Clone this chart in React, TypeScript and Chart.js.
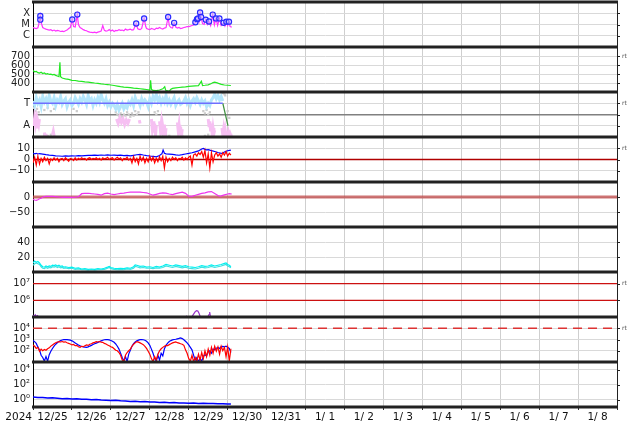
import { useEffect, useRef } from 'react';
import { Chart, registerables } from 'chart.js';
Chart.register(...registerables);

// ---------- axis labels ----------
const dayLabels = ['12/25', '12/26', '12/27', '12/28', '12/29', '12/30', '12/31', '1/ 1', '1/ 2', '1/ 3', '1/ 4', '1/ 5', '1/ 6', '1/ 7', '1/ 8'];
const yearLabel = '2024';
const totalHours = 360;

// ---------- panel 1: X-ray flux (hour, W/m2) ----------
const xraySeries: [number, number][] = [[0,5.4e-6],[1,4.8e-6],[2,4.4e-6],[3,5.0e-6],[4,2.0e-5],[4.5,5.7e-5],[5,1.5e-5],[6,5.4e-6],[7,4.4e-6],[8,3.9e-6],[9,3.5e-6],[10,3.2e-6],[11,3.5e-6],[12,2.8e-6],[13,3.2e-6],[14,2.6e-6],[15,3.0e-6],[16,2.8e-6],[17,2.4e-6],[18,2.6e-6],[19,2.3e-6],[20,2.8e-6],[21,3.2e-6],[22,4.4e-6],[23,5.4e-6],[24.2,2.85e-5],[25,6.6e-6],[26,5.9e-6],[27.3,7.6e-5],[28,1.0e-5],[29,5.4e-6],[30,4.4e-6],[31,3.5e-6],[32,3.0e-6],[33,2.8e-6],[34,2.3e-6],[35,2.1e-6],[36,2.0e-6],[37,1.9e-6],[38,2.1e-6],[39,1.8e-6],[40,2.1e-6],[41,2.3e-6],[42,2.6e-6],[43,8.1e-6],[44,3.0e-6],[45,2.6e-6],[46,2.8e-6],[47,3.5e-6],[48,2.6e-6],[49,3.2e-6],[50,2.4e-6],[51,3.0e-6],[52,2.8e-6],[53,3.5e-6],[54,3.0e-6],[55,3.2e-6],[56,2.8e-6],[57,3.9e-6],[58,3.2e-6],[59,3.5e-6],[60,3.9e-6],[61,3.2e-6],[62,3.5e-6],[63.6,1.23e-5],[64.5,4.4e-6],[65,3.9e-6],[66,3.5e-6],[67,4.4e-6],[68.5,3.5e-5],[69.5,6.6e-6],[70,4.4e-6],[71,3.9e-6],[72,3.5e-6],[73,4.4e-6],[74,4.0e-6],[75,3.5e-6],[76,4.8e-6],[77,4.4e-6],[78,5.4e-6],[79,4.4e-6],[80,3.9e-6],[81,4.8e-6],[82,5.4e-6],[83.3,4.6e-5],[84,8.1e-6],[85,5.4e-6],[86,4.8e-6],[87,1.4e-5],[88,5.9e-6],[89,4.8e-6],[90,5.4e-6],[91,4.4e-6],[92,4.8e-6],[93,5.4e-6],[94,5.9e-6],[95,6.6e-6],[96,6.6e-6],[97,7.2e-6],[98,8.1e-6],[99,9.0e-6],[100.1,1.6e-5],[101.1,3.0e-5],[101.7,3.5e-5],[102.3,1.8e-5],[103,1.15e-4],[103.6,4.6e-5],[104.5,1.2e-5],[105.5,1.0e-5],[106.5,2.7e-5],[107.5,1.0e-5],[108.5,1.85e-5],[109.5,8.1e-6],[110.8,7.6e-5],[111.8,9.0e-6],[112.8,3.5e-5],[113.8,8.1e-6],[114.9,3.5e-5],[116,8.1e-6],[117.5,1.4e-5],[118.3,7.2e-6],[119.2,1.8e-5],[120,8.1e-6],[120.8,1.8e-5],[121.5,6.6e-6],[122.5,5.9e-6]];
const flareEvents: [number, number][] = [[4.5,5.7e-5],[4.5,2.7e-5],[24.2,2.85e-5],[27.3,7.6e-5],[63.6,1.23e-5],[68.5,3.5e-5],[83.3,4.6e-5],[87,1.4e-5],[100.1,1.6e-5],[101.1,3.0e-5],[101.7,3.5e-5],[103,1.15e-4],[103.6,4.6e-5],[106.5,2.7e-5],[108.5,1.85e-5],[110.8,7.6e-5],[112.8,3.5e-5],[114.9,3.5e-5],[117.5,1.4e-5],[119.2,1.8e-5],[120.8,1.8e-5]];
const xrayTicks = [1e-6, 1e-5, 1e-4];
const xrayTickLabels = ['C', 'M', 'X'];

// ---------- panel 2: solar wind speed (hour, km/s) ----------
const windSeries: [number, number][] = [[0,540],[1,525],[2,530],[3,515],[4,510],[5,520],[6,505],[7,512],[8,500],[9,505],[10,495],[11,498],[12,490],[13,495],[14,485],[15,478],[16,470],[16.6,630],[17,470],[18,455],[19,450],[20,445],[22,440],[24,430],[26,428],[28,420],[30,418],[32,412],[34,410],[36,405],[38,400],[40,396],[42,390],[44,386],[46,383],[48,378],[50,372],[52,366],[54,360],[56,355],[58,352],[60,348],[62,343],[64,340],[66,336],[68,332],[70,328],[72,322],[72.5,430],[73,330],[74,318],[76,316],[78,322],[80,335],[81.2,358],[81.8,320],[83,312],[84,310],[85,330],[86,340],[88,345],[90,350],[92,355],[94,358],[96,362],[98,365],[100,368],[102,370],[103.8,420],[104.5,372],[106,375],[108,380],[110,395],[111,405],[112,410],[113,405],[114,398],[116,385],[118,378],[120,375],[122,372]];
const windTicks = [400, 500, 600, 700];

// ---------- panel 3: sector polarity (T = 1, A = -1) ----------
const sectorTowardLine: [number, number][] = [[0, 1], [117, 1]];
const sectorSwitchLine: [number, number][] = [[117, 1], [120.2, -1]];
const sectorToward = [1.2,0.8,1.5,1.0,1.3,0.7,1.6,1.1,1.4,0.9, 1.7,1.2,1.0,1.5,0.8,1.3,1.1,1.6,0.9,1.2, 1.4,0.7,1.1,1.3,0.8,1.0,1.5,1.2,0.9,1.4, 1.1,1.6,1.3,0.9,1.7,1.2,1.4,0.8,1.3,1.0, 1.5,1.1,1.8,1.3,1.0,1.4,0.8,1.1,0.7,1.0, 0.8,0.5,0.9,0.4,0.7,1.0,0.5,0.8,0.6,1.1, 0.9,1.3,0.8,1.5,1.1,1.2,0.8,1.4,1.0,1.3, 1.1,0.7,1.4,1.0,1.6,1.3,1.8,1.2,1.5,1.0, 1.4,1.1,1.7,1.0,1.3,0.9,1.2,1.5,0.8,1.1, 1.3,0.9,1.0,1.2,1.5,1.0,1.3,0.8,1.2,1.4, 1.1,1.5,1.2,0.9,1.3,1.0,1.2,0.7,1.0,0.8, 1.3,1.5,1.8,1.4,1.7,1.3,1.6,1.2];
const sectorAway: [number, number | null][] = [[0,-0.4],[0.5,-1.0],[1,-0.3],[1.5,-0.9],[2,-0.5],[2.5,-1.1],[3,-0.6],[3.5,-0.9],[4,-0.4],[5,null],[7,-1.6],[7.5,-1.9],[8,-1.7],[9,null],[12,-1.8],[12.5,-1.5],[13,-1.9],[14,null],[51.5,-0.4],[52.5,-0.8],[53.5,-0.3],[54.5,-0.7],[55.5,-0.4],[56.5,-0.9],[57.5,-0.5],[58.5,-0.8],[59.5,-0.4],[60,null],[65.5,-0.5],[66,-0.8],[67,null],[73,-0.4],[73.5,-1.2],[74,-0.6],[74.5,-1.6],[75,-0.8],[75.5,-1.9],[76,-1.0],[77,null],[78,-0.6],[78.5,-1.3],[79,-0.8],[79.5,-1.8],[80,-1.1],[80.5,-1.6],[81,-0.9],[81.5,-1.9],[82,-1.2],[83,null],[89,-0.7],[89.5,-1.4],[90,-0.9],[90.5,-1.8],[91,-1.1],[91.5,-1.9],[92,-1.3],[93,null],[108,-0.4],[108.5,-1.0],[109,-0.6],[109.5,-1.5],[110,-0.8],[110.5,-1.9],[111,-1.2],[111.5,-1.7],[112,-1.4],[113,null],[116.5,-1.2],[117,-1.8],[117.5,-1.3],[118,-1.9],[118.5,-1.4],[119,-1.9],[119.5,-1.5],[120,-1.95],[120.5,-1.6],[121,-1.9],[121.5,-1.7],[122,-1.9],[122.5,-1.8]];
const sectorUndetermined: [number, number][] = [[0.5,0.6],[1.5,0.3],[2.5,0.5],[3.5,0.2],[5,0.7],[7,0.4],[9,0.6],[11,0.3],[13,0.5],[2,1.9],[4,1.95],[6,1.9],[7,-1.8],[9,-1.9],[11,-1.8],[13,-1.9],[25,0.5],[27,0.3],[51,0.2],[52,0.0],[53,-0.1],[54,0.1],[55,-0.2],[56,0.0],[57,-0.1],[58,0.2],[59,0.0],[60,-0.2],[61,0.1],[62,-0.1],[63,0.3],[64,0.0],[65,0.2],[75,0.2],[76,0.0],[77,0.3],[80,-1.9],[82,-1.8],[84,-1.9],[91,-1.8],[92,-1.9],[105,0.3],[106,0.1],[107,0.4],[108,0.0],[109,0.2],[106,-1.9],[108,-1.8],[113,1.5],[117,1.9],[118,1.8],[118.5,1.7],[120,0.3],[121,-0.3]];
const sectorTicks = [-1, 0, 1];
const sectorTickLabels = ['A', '', 'T'];

// ---------- panel 4: IMF Bt (hour, nT) and Bz (hourly, nT) ----------
const btSeries: [number, number][] = [[0,5.6],[1,5.1],[2,5.5],[3,4.9],[4,5.3],[6,4.8],[8,4.3],[10,3.9],[12,3.6],[14,3.3],[16,3.1],[18,2.9],[20,3.2],[22,3.0],[24,3.3],[26,3.1],[28,3.4],[30,3.2],[32,3.5],[34,3.7],[36,3.6],[38,3.9],[40,3.7],[42,4.0],[44,3.8],[46,4.1],[48,3.8],[50,3.9],[52,3.6],[54,3.8],[56,3.4],[58,3.6],[60,3.2],[62,3.7],[64,4.2],[66,4.6],[68,4.0],[70,3.5],[72,3.1],[74,2.8],[76,2.4],[78,3.5],[79.5,5.2],[80.2,8.4],[81,5.5],[82,5.0],[84,4.8],[86,4.5],[88,4.1],[90,3.8],[92,4.3],[94,4.9],[96,5.4],[98,6.0],[100,6.8],[102,7.6],[103,8.5],[104,9.3],[105,9.8],[106,9.0],[107,8.6],[108,8.8],[109,8.3],[110,7.9],[112,7.1],[114,6.2],[116,5.5],[117,5.8],[118,6.6],[119,7.3],[120,7.8],[121,8.1],[122,8.4]];
const bzHourly = [-3,2,-5,3,-4,1,-2,2,-1,1, -4,0.5,-1,1.5,-0.5,1,-2,0.5,1,-1, 1.5,0,-1.5,1,0.5,-1,1.5,-0.5,1,0, 1.5,0.5,1,-0.5,1,1.5,0,1,0.5,1.5, 0,1,-0.5,1.5,0.5,1,2,0,1,1.5, -0.5,1,2,0.5,1.5,-1,1,0.5,2,-0.5, 1,-3,2.5,-2,1,-4,3,-1,2,-3, 1,-2,3,-1,2,-3,1,-2,2.5,-1, 3,-7.5,2,-2,1,-1,2,0,1.5,-1, 1,0.5,2,-0.5,1.5,0,2,3,-5,4, 5,3,6,4.5,7,2,8,-3,5,-7.5, 6,-2,4,6,3,5,2,6,4,7, 3,5.5,4];
const bTicks = [-10, 0, 10];
const bTickLabels = ['\u221210', '0', '10'];
const bzZeroLevel = 0;

// ---------- panel 5: Dst (hour, nT) ----------
const dstSeries: [number, number][] = [[0,-8],[1,-10],[2,-11],[3,-9],[4,-6],[5,-4],[6,-1],[7,1],[8,2],[10,2.5],[12,2],[14,1],[16,0],[18,-1],[20,-0.5],[22,-1.5],[24,-1],[26,-0.5],[27,0],[28,1],[29,6],[30,11],[32,12],[34,12.5],[36,11],[38,10],[40,9],[42,6],[44,11],[46,13],[48,10],[50,8],[52,10],[54,12],[56,13],[58,15],[60,16],[62,16.5],[64,16],[66,16],[68,15],[70,14],[72,10],[74,6],[76,9],[78,12],[80,14],[82,13],[84,10],[86,8],[88,11],[90,14],[92,16],[94,12],[96,3],[98,2],[100,6],[102,9],[104,12],[106,14],[108,17],[110,18],[112,12],[114,5],[115,3],[116,4],[118,7],[120,10],[121,11],[122.5,10]];
const dstTicks = [-50, 0];
const dstTickLabels = ['\u221250', '0'];
const dstZeroLevel = 0;

// ---------- panel 6: density (hour) ----------
const densityA: [number, number][] = [[0,12],[1,14.5],[2,13],[3,14],[4,12],[5,9],[6,7],[7,6.5],[8,8],[9,7],[10,8],[11,7.5],[12,9],[13,8.5],[14,9.5],[15,8],[16,9],[17,7.5],[18,8],[19,6.5],[20,7],[22,6],[24,6.5],[26,5],[28,5.5],[30,4],[32,4.5],[34,3.5],[36,4],[38,3.5],[40,4.5],[42,4],[44,5],[46,6.5],[47,7.5],[48,6],[50,5],[52,4.5],[54,5],[56,4.5],[58,5.5],[60,5],[62,7],[63,9.5],[64,9],[66,7.5],[68,8],[70,6.5],[72,7],[74,6],[76,7.5],[78,6.5],[80,8],[82,10],[84,9],[86,8],[88,9.5],[90,8.5],[92,7.5],[94,8.5],[96,7],[98,6.5],[100,6],[102,7],[104,8.5],[106,7.5],[108,8],[110,9.5],[112,8],[114,9],[116,10],[118,11.5],[119,12],[120,10],[121,9],[122,7]];
const densityB: [number, number][] = [[0,9],[1,11],[2,12],[3,11],[4,10],[5,7],[6,5],[7,4.5],[8,6],[9,5],[10,6],[11,5.5],[12,7],[13,6.5],[14,7.5],[15,6],[16,7],[17,5.5],[18,6],[19,5],[20,5.5],[22,4.5],[24,5],[26,3.5],[28,4],[30,3],[32,3],[34,2.5],[36,3],[38,2.5],[40,3],[42,3],[44,3.5],[46,5],[47,6],[48,4.5],[50,3.5],[52,3],[54,3.5],[56,3],[58,4],[60,3.5],[62,5],[63,7.5],[64,7],[66,5.5],[68,6],[70,5],[72,5],[74,4.5],[76,5.5],[78,5],[80,6],[82,8],[84,7],[86,6],[88,7.5],[90,6.5],[92,5.5],[94,6.5],[96,5],[98,4.5],[100,4],[102,5],[104,6.5],[106,5.5],[108,6],[110,7.5],[112,6],[114,7],[116,8],[118,9.5],[119,10],[120,8],[121,7],[122,5.5]];
const densityTicks = [20, 40];

// ---------- panel 7: flux (hour) with thresholds ----------
const fluxSeries: [number, number][] = [[0,1.3e5],[0.7,1.1e5],[1.4,1.35e5],[2.1,1.05e5],[2.8,1.2e5],[3.5,9e4],[5,7e4],[10,6e4],[20,5e4],[30,5e4],[40,4.5e4],[50,4.5e4],[60,5e4],[70,5e4],[80,5.5e4],[90,6e4],[93,7e4],[94,9e4],[94.6,1.1e5],[95.2,9e4],[96,8e4],[97,8.5e4],[98,1.05e5],[99,1.5e5],[100,2.1e5],[100.8,2.4e5],[101.6,2.3e5],[102.4,1.6e5],[103,1.1e5],[104,8e4],[106,7e4],[107.5,9e4],[108.5,1.4e5],[108.9,2.0e5],[109.3,1.2e5],[110,8e4],[112,6e4],[116,5e4],[120,4.5e4],[122.5,4.5e4]];
const fluxThresholds = [1e7, 1e6];
const fluxTicks = [1e6, 1e7];
const fluxTickLabels = ['10\u2076', '10\u2077'];

// ---------- panel 8: particle flux (hourly) ----------
const particleBlue = [800,650,450,220,120,40,25,12,30,12, 45,90,160,260,380,520,680,800,900,960, 1000,980,940,880,760,620,500,400,320,270, 240,220,210,200,220,260,300,360,420,480, 560,650,750,850,950,1000,980,920,820,700, 560,400,250,140,60,25,12,30,11,50, 110,250,420,600,760,880,960,1000,950,860, 700,500,300,140,60,20,12,40,15,60, 35,150,300,480,650,800,920,1000,1050,1150, 1250,1400,1200,950,700,500,330,200,120,40, 15,25,11,20,12,30,45,35,80,100, 60,140,120,170,200,160,230,240,220,250, 200,160,70];
const particleRed = [330,250,160,200,90,140,100,130,110,150, 180,260,330,420,520,600,650,600,660,580, 620,520,450,400,330,360,280,300,230,200, 250,230,280,330,300,380,420,500,560,640, 600,660,580,560,450,400,330,280,230,200, 150,110,100,70,40,15,11,40,70,100, 140,250,380,500,650,580,500,420,350,250, 160,90,50,20,11,30,15,50,100,150, 200,250,300,280,350,420,500,560,600,520, 480,420,380,300,120,60,20,12,40,11, 25,12,50,15,70,20,100,30,140,40, 200,60,250,90,220,50,250,100,200,30, 220,12,150];
const particleThreshold = 1e4;
const particleTicks = [1e2, 1e3, 1e4];
const particleTickLabels = ['10\u00b2', '10\u00b3', '10\u2074'];

// ---------- panel 9: bottom series (hour) ----------
const bottomSeries: [number, number][] = [[0,2.1],[3,1.8],[6,1.9],[9,1.6],[12,1.7],[15,1.5],[18,1.3],[21,1.4],[24,1.2],[27,1.25],[30,1.05],[33,1.1],[36,0.95],[39,1.0],[42,0.85],[45,0.8],[48,0.75],[51,0.8],[54,0.7],[57,0.65],[60,0.55],[63,0.6],[66,0.5],[69,0.55],[72,0.45],[75,0.48],[78,0.4],[81,0.42],[84,0.36],[87,0.4],[90,0.33],[93,0.35],[96,0.32],[99,0.34],[102,0.3],[105,0.32],[108,0.29],[111,0.3],[114,0.27],[117,0.28],[120,0.25],[122,0.26]];
const bottomTicks = [1e0, 1e2, 1e4];
const bottomTickLabels = ['10\u2070', '10\u00b2', '10\u2074'];

// ---------- helpers ----------
const FONT = 'DejaVu Sans';
const pairs = (arr: [number, number | null][]) => arr.map(([x, y]) => ({ x, y }));
const hourly = (arr: number[]) => arr.map((y, i) => ({ x: i, y }));
const level = (v: number) => [{ x: 0, y: v }, { x: totalHours, y: v }];

const line = (data: any[], yAxisID: string, color: string, width = 1, extra: any = {}) => ({
  type: 'line', data, yAxisID, xAxisID: 'x', borderColor: color, backgroundColor: color,
  borderWidth: width, pointRadius: 0, tension: 0, fill: false, spanGaps: false, ...extra,
});

function makeY(weight: number, type: string, min: number, max: number, ticks: number[], labels: string[] | null, strongZero = false) {
  const same = (a: number, b: number) => Math.abs(a - b) <= Math.abs(b) * 1e-6 + 1e-12;
  return {
    type, min, max, position: 'left', stack: 'panels', stackWeight: 1, weight, offset: false,
    border: { display: true, color: '#000', width: 1 },
    grid: {
      drawTicks: false,
      color: (ctx: any) => (strongZero && ctx.tick && ctx.tick.value === 0 ? '#808080' : '#d9d9d9'),
      lineWidth: (ctx: any) => (strongZero && ctx.tick && ctx.tick.value === 0 ? 1.5 : 1),
    },
    ticks: {
      autoSkip: false, padding: 3, color: '#222', font: { family: FONT, size: 10 },
      callback: (v: number) => {
        const i = ticks.findIndex((t) => same(v, t));
        if (i < 0) return '';
        return labels ? labels[i] : String(ticks[i]);
      },
    },
    afterBuildTicks: (s: any) => { s.ticks = ticks.map((v) => ({ value: v })); },
    afterFit: (s: any) => { s.width = 33; s.paddingTop = 0; s.paddingBottom = 0; },
  };
}

const panelIds = ['yX', 'yV', 'yS', 'yB', 'yD', 'yN', 'yE', 'yP', 'yK'];
const rtMarks: [string, number][] = [['yV', 700], ['yS', 1], ['yB', 10], ['yE', 1e7], ['yP', 1e4]];

const framePlugin = {
  id: 'panelFrame',
  afterDraw(chart: any) {
    const { ctx, chartArea } = chart;
    const L = chartArea.left, R = chartArea.right;
    ctx.save();
    ctx.strokeStyle = '#222';
    ctx.lineWidth = 1;
    ctx.beginPath();
    ctx.moveTo(R + 0.5, chartArea.top);
    ctx.lineTo(R + 0.5, chartArea.bottom);
    panelIds.forEach((id) => {
      const s = chart.scales[id];
      s.ticks.forEach((t: any) => {
        const y = Math.round(s.getPixelForValue(t.value)) + 0.5;
        ctx.moveTo(R, y);
        ctx.lineTo(R + 3, y);
      });
    });
    ctx.stroke();
    const ys = new Set<number>();
    panelIds.forEach((id) => { const s = chart.scales[id]; ys.add(Math.round(s.top)); ys.add(Math.round(s.bottom)); });
    ctx.lineWidth = 3;
    ctx.strokeStyle = '#222';
    ctx.beginPath();
    ys.forEach((y) => { ctx.moveTo(L - 1, y); ctx.lineTo(R + 1, y); });
    ctx.stroke();
    ctx.fillStyle = '#555';
    ctx.font = `6px ${FONT}`;
    ctx.textAlign = 'left';
    ctx.textBaseline = 'middle';
    rtMarks.forEach(([id, v]) => {
      const s = chart.scales[id];
      ctx.fillText('rt', R + 5, s.getPixelForValue(v));
    });
    ctx.fillStyle = '#111';
    ctx.font = `10.5px ${FONT}`;
    ctx.textAlign = 'right';
    ctx.fillText(yearLabel, L - 1, chartArea.bottom + 10);
    ctx.restore();
  },
};

function buildConfig(): any {
  const datasets = [
    // panel 1
    { type: 'scatter', data: pairs(flareEvents), yAxisID: 'yX', xAxisID: 'x', showLine: false, pointRadius: 2.6, pointBorderWidth: 1.2, pointBorderColor: '#2a2aff', pointBackgroundColor: 'rgba(200,200,255,0.5)' },
    line(pairs(xraySeries), 'yX', '#ff33ff', 1.2),
    // panel 2
    line(pairs(windSeries), 'yV', '#22e822', 1.2),
    // panel 3
    line(pairs(sectorTowardLine), 'yS', '#6f6fff', 1.5),
    line(pairs(sectorSwitchLine), 'yS', '#3f8f3f', 1.2),
    line(hourly(sectorToward), 'yS', '#b4e6fb', 3),
    line(pairs(sectorAway), 'yS', '#f6c0f2', 3),
    { type: 'scatter', data: pairs(sectorUndetermined), yAxisID: 'yS', xAxisID: 'x', showLine: false, pointRadius: 1.6, pointStyle: 'rect', pointBorderWidth: 0, pointBackgroundColor: '#cccccc' },
    // panel 4
    line(hourly(bzHourly), 'yB', '#ff0000', 1.2),
    line(pairs(btSeries), 'yB', '#0000ff', 1.2),
    line(level(bzZeroLevel), 'yB', '#b00000', 1.5),
    // panel 5
    line(pairs(dstSeries), 'yD', '#ee33ee', 1.2),
    line(level(dstZeroLevel), 'yD', 'rgba(190,70,70,0.75)', 3),
    // panel 6
    line(pairs(densityA), 'yN', '#00f0f0', 1.2),
    line(pairs(densityB), 'yN', '#40e0e0', 1.2),
    // panel 7
    line(pairs(fluxSeries), 'yE', '#9933cc', 1.2),
    ...fluxThresholds.map((v) => line(level(v), 'yE', '#cc1111', 1.3)),
    // panel 8
    line(hourly(particleRed), 'yP', '#ff0000', 1.2),
    line(hourly(particleBlue), 'yP', '#0000ff', 1.2),
    line(level(particleThreshold), 'yP', '#dd3333', 1.5, { borderDash: [9, 6] }),
    // panel 9
    line(pairs(bottomSeries), 'yK', '#0000ff', 1.5),
  ];

  const xTickValues: number[] = [];
  for (let h = 0; h <= totalHours; h += 12) xTickValues.push(h);

  return {
    type: 'line',
    data: { datasets },
    options: {
      responsive: false,
      animation: false,
      devicePixelRatio: 1,
      layout: { autoPadding: false, padding: { top: 2, right: 17, left: 0, bottom: 0 } },
      plugins: { legend: { display: false }, tooltip: { enabled: false }, title: { display: false } },
      scales: {
        x: {
          type: 'linear', position: 'bottom', min: 0, max: totalHours,
          border: { display: false },
          grid: {
            color: (ctx: any) => (ctx.tick && ctx.tick.value % 24 === 0 ? '#cfcfcf' : 'rgba(0,0,0,0)'),
            tickColor: (ctx: any) => (ctx.tick && ctx.tick.value % 24 === 0 ? '#333' : 'rgba(0,0,0,0)'),
            tickLength: 3,
            drawTicks: true,
          },
          ticks: {
            autoSkip: false, maxRotation: 0, minRotation: 0, padding: 1, color: '#111',
            font: { family: FONT, size: 10.5 },
            callback: (v: number) => (v % 24 === 12 ? dayLabels[(v - 12) / 24] : ''),
          },
          afterBuildTicks: (s: any) => { s.ticks = xTickValues.map((v) => ({ value: v })); },
          afterFit: (s: any) => { s.height = 17; s.paddingLeft = 0; s.paddingRight = 0; },
        },
        yX: makeY(9, 'logarithmic', 1e-7, 1e-3, xrayTicks, xrayTickLabels),
        yV: makeY(8, 'linear', 300, 800, windTicks, null),
        yS: makeY(7, 'linear', -2, 2, sectorTicks, sectorTickLabels, true),
        yB: makeY(6, 'linear', -20, 20, bTicks, bTickLabels),
        yD: makeY(5, 'linear', -100, 50, dstTicks, dstTickLabels),
        yN: makeY(4, 'linear', 0, 60, densityTicks, null),
        yE: makeY(3, 'logarithmic', 1e5, 5e7, fluxTicks, fluxTickLabels),
        yP: makeY(2, 'logarithmic', 1e1, 1e5, particleTicks, particleTickLabels),
        yK: makeY(1, 'logarithmic', 1e-1, 1e5, bottomTicks, bottomTickLabels),
      },
    },
    plugins: [framePlugin],
  };
}

export default function App() {
  const ref = useRef<HTMLCanvasElement>(null);
  useEffect(() => {
    if (!ref.current) return;
    const chart = new Chart(ref.current, buildConfig());
    return () => chart.destroy();
  }, []);
  return (
    <div style={{ position: 'absolute', left: 0, top: 0, width: 634, height: 424, background: '#fff' }}>
      <canvas ref={ref} width={634} height={424} style={{ display: 'block', width: 634, height: 424 }} />
    </div>
  );
}
